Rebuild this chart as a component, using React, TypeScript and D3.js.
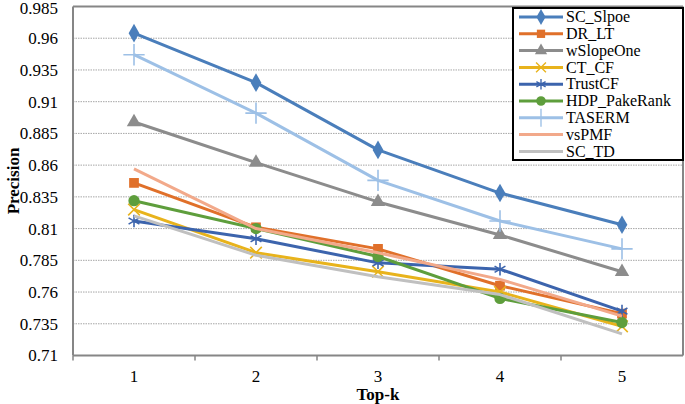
import React, { useEffect } from 'react'
import * as d3 from 'd3'

const topK = ['1', '2', '3', '4', '5']
const yTicks = [0.71, 0.735, 0.76, 0.785, 0.81, 0.835, 0.86, 0.885, 0.91, 0.935, 0.96, 0.985]

const scSlpoe = [0.964, 0.925, 0.872, 0.838, 0.813]
const drLt = [0.846, 0.811, 0.794, 0.765, 0.743]
const wSlopeOne = [0.894, 0.862, 0.831, 0.805, 0.776]
const ctCf = [0.825, 0.791, 0.776, 0.760, 0.733]
const trustCf = [0.816, 0.802, 0.783, 0.778, 0.745]
const hdpPakeRank = [0.832, 0.810, 0.788, 0.755, 0.736]
const taserm = [0.947, 0.901, 0.848, 0.816, 0.794]
const vsPmf = [0.857, 0.810, 0.791, 0.770, 0.741]
const scTd = [0.820, 0.789, 0.772, 0.758, 0.727]

type Marker = 'diamond' | 'square' | 'triangle' | 'x' | 'asterisk' | 'circle' | 'plus' | 'none'

const series: { name: string; values: number[]; color: string; marker: Marker }[] = [
  { name: 'SC_Slpoe', values: scSlpoe, color: '#4a7ebb', marker: 'diamond' },
  { name: 'DR_LT', values: drLt, color: '#e0702a', marker: 'square' },
  { name: 'wSlopeOne', values: wSlopeOne, color: '#8c8c8c', marker: 'triangle' },
  { name: 'CT_CF', values: ctCf, color: '#e8b31c', marker: 'x' },
  { name: 'TrustCF', values: trustCf, color: '#3c64ad', marker: 'asterisk' },
  { name: 'HDP_PakeRank', values: hdpPakeRank, color: '#5e9e3c', marker: 'circle' },
  { name: 'TASERM', values: taserm, color: '#9dc0e6', marker: 'plus' },
  { name: 'vsPMF', values: vsPmf, color: '#f2a98a', marker: 'none' },
  { name: 'SC_TD', values: scTd, color: '#c0c0c0', marker: 'none' },
]

const W = 685
const H = 404
const margin = { left: 73, right: 2, top: 6.5, bottom: 48.5 }
const font = '"Liberation Serif", "Times New Roman", serif'

function markerPath(m: Marker): { d: string; filled: boolean } | null {
  switch (m) {
    case 'diamond': return { d: d3.symbol(d3.symbolDiamond, 100)() || '', filled: true }
    case 'square': return { d: d3.symbol(d3.symbolSquare, 95)() || '', filled: true }
    case 'triangle': return { d: d3.symbol(d3.symbolTriangle, 90)() || '', filled: true }
    case 'circle': return { d: d3.symbol(d3.symbolCircle, 100)() || '', filled: true }
    case 'x': return { d: d3.symbol(d3.symbolX, 90)() || '', filled: false }
    case 'asterisk': return { d: d3.symbol(d3.symbolAsterisk, 110)() || '', filled: false }
    case 'plus': return { d: d3.symbol(d3.symbolPlus, 150)() || '', filled: false }
    default: return null
  }
}

const App: React.FC = () => {
  useEffect(() => {
    document.body.style.margin = '0'
  }, [])

  const x = d3.scaleBand().domain(topK).range([margin.left, W - margin.right])
  const y = d3.scaleLinear().domain([0.71, 0.985]).range([H - margin.bottom, margin.top])
  const cx = (k: string) => (x(k) || 0) + x.bandwidth() / 2

  const line = d3.line<number>()
    .x((_, i) => cx(topK[i]))
    .y(d => y(d))

  const x0 = margin.left
  const x1 = W - margin.right
  const yBottom = y(0.71)
  const yTop = y(0.985)

  const legendX = 513
  const legendY = 8
  const legendRow = 16.8

  return (
    <svg width={W} height={H} style={{ display: 'block', background: '#fff' }}>
      {/* grid */}
      {yTicks.slice(1, -1).map(t => (
        <line key={t} x1={x0} x2={x1} y1={y(t)} y2={y(t)} stroke="#a6a6a6" strokeWidth={1} strokeDasharray="1.5,1" />
      ))}
      {/* frame */}
      <line x1={x0} x2={x1} y1={yTop} y2={yTop} stroke="#868686" strokeWidth={2} />
      <line x1={x1} x2={x1} y1={yTop} y2={yBottom} stroke="#868686" strokeWidth={2} />
      <line x1={x0} x2={x0} y1={yTop} y2={yBottom} stroke="#868686" strokeWidth={2} />
      <line x1={x0} x2={x1} y1={yBottom} y2={yBottom} stroke="#868686" strokeWidth={2} />
      {topK.map(k => (
        <line key={k} x1={x(k)} x2={x(k)} y1={yBottom} y2={yBottom + 5} stroke="#868686" strokeWidth={1.5} />
      ))}
      {/* y ticks */}
      {yTicks.map(t => (
        <text key={t} x={58} y={Math.max(y(t), 8)} dy="0.35em" textAnchor="end" fontFamily={font} fontSize={17}>{String(t)}</text>
      ))}
      {topK.map(k => (
        <text key={k} x={cx(k)} y={382} textAnchor="middle" fontFamily={font} fontSize={17}>{k}</text>
      ))}
      <text x={cx('3')} y={400} textAnchor="middle" fontFamily={font} fontSize={17} fontWeight="bold">Top-k</text>
      <text transform={`translate(19,${(yTop + yBottom) / 2}) rotate(-90)`} textAnchor="middle" fontFamily={font} fontSize={17} fontWeight="bold">Precision</text>

      {/* series */}
      {series.map(s => {
        const mk = markerPath(s.marker)
        return (
          <g key={s.name}>
            <path d={line(s.values) || ''} fill="none" stroke={s.color} strokeWidth={3} strokeLinejoin="round" />
            {mk && s.values.map((v, i) => (
              <path key={i} d={mk.d} transform={`translate(${cx(topK[i])},${y(v)})`}
                fill={mk.filled ? s.color : 'none'} stroke={s.color} strokeWidth={mk.filled ? 0 : 1.6} />
            ))}
          </g>
        )
      })}

      {/* legend */}
      <rect x={legendX} y={legendY} width={170} height={152} fill="#fff" stroke="#000" strokeWidth={2} />
      {series.map((s, i) => {
        const ly = legendY + 9 + i * legendRow
        const mk = markerPath(s.marker)
        return (
          <g key={s.name}>
            <line x1={519} x2={563} y1={ly} y2={ly} stroke={s.color} strokeWidth={3} />
            {mk && (
              <path d={mk.d} transform={`translate(541,${ly}) scale(0.85)`}
                fill={mk.filled ? s.color : 'none'} stroke={s.color} strokeWidth={mk.filled ? 0 : 1.6} />
            )}
            <text x={566} y={ly} dy="0.33em" fontFamily={font} fontSize={16}>{s.name}</text>
          </g>
        )
      })}
    </svg>
  )
}

export default App
